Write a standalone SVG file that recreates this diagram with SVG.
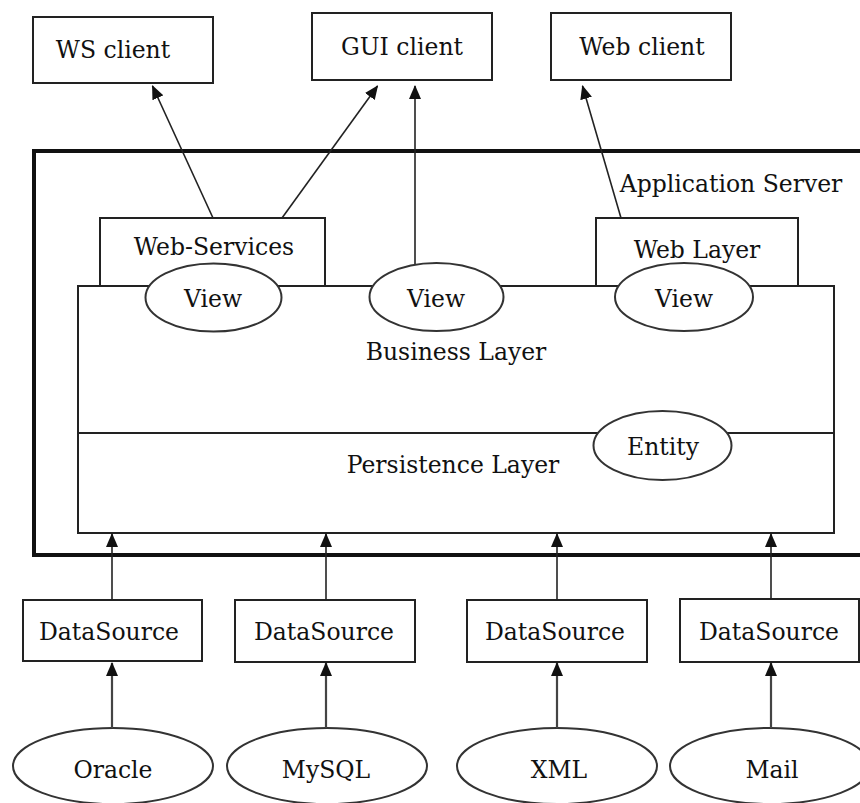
<svg xmlns="http://www.w3.org/2000/svg" width="860" height="803" viewBox="0 0 860 803">
<style>
  text { font-family: "DejaVu Serif", "Liberation Serif", serif; font-size: 23.5px; fill: #111; text-anchor: middle; }
  .box { fill: #fff; stroke: #222; stroke-width: 2; }
  .ell { fill: #fff; stroke: #333; stroke-width: 2; }
  .server { fill: none; stroke: #111; stroke-width: 4; }
  .conn { stroke: #222; stroke-width: 1.6; fill: none; marker-end: url(#arrow); }
  .conn2 { stroke: #444; stroke-width: 2.2; fill: none; marker-end: url(#arrow); }
</style>
<defs>
  <marker id="arrow" markerUnits="userSpaceOnUse" markerWidth="14" markerHeight="12" refX="13" refY="6" orient="auto">
    <path d="M0,0 L14,6 L0,12 z" fill="#111"/>
  </marker>
</defs>
<rect width="860" height="803" fill="#fff"/>

<g id="app-server">
  <rect class="server" x="34" y="151" width="840" height="404"/>
  <text x="731" y="192">Application Server</text>
</g>

<g id="ws-client">
  <rect class="box" x="33" y="17" width="180" height="66"/>
  <text x="113" y="58">WS client</text>
</g>
<g id="gui-client">
  <rect class="box" x="312" y="13" width="180" height="67"/>
  <text x="402" y="55">GUI client</text>
</g>
<g id="web-client">
  <rect class="box" x="551" y="13" width="180" height="67"/>
  <text x="642" y="55">Web client</text>
</g>

<g id="web-services">
  <rect class="box" x="100" y="218" width="225" height="68"/>
  <text x="214" y="255">Web-Services</text>
</g>
<g id="web-layer">
  <rect class="box" x="596" y="218" width="202" height="68"/>
  <text x="697" y="258">Web Layer</text>
</g>

<g id="business-persistence">
  <rect class="box" x="78" y="286" width="756" height="247"/>
  <line x1="78" y1="433" x2="834" y2="433" stroke="#222" stroke-width="2"/>
  <text x="456" y="360">Business Layer</text>
  <text x="453" y="473">Persistence Layer</text>
</g>

<g id="view-ws">
  <ellipse class="ell" cx="213.5" cy="297.5" rx="68" ry="34"/>
  <text x="213" y="307">View</text>
</g>
<g id="view-gui">
  <ellipse class="ell" cx="436.5" cy="297" rx="67" ry="34"/>
  <text x="436" y="307">View</text>
</g>
<g id="view-web">
  <ellipse class="ell" cx="684" cy="297" rx="69" ry="34"/>
  <text x="684" y="307">View</text>
</g>
<g id="entity">
  <ellipse class="ell" cx="662.5" cy="445.5" rx="69" ry="34.5"/>
  <text x="663" y="455">Entity</text>
</g>

<g id="ds1">
  <rect class="box" x="23" y="600" width="179" height="61"/>
  <text x="109" y="640">DataSource</text>
</g>
<g id="ds2">
  <rect class="box" x="235" y="600" width="180" height="62"/>
  <text x="324" y="640">DataSource</text>
</g>
<g id="ds3">
  <rect class="box" x="467" y="600" width="180" height="62"/>
  <text x="555" y="640">DataSource</text>
</g>
<g id="ds4">
  <rect class="box" x="680" y="599" width="179" height="63"/>
  <text x="769" y="640">DataSource</text>
</g>

<g id="oracle">
  <ellipse class="ell" cx="113" cy="766" rx="100" ry="38"/>
  <text x="113" y="778">Oracle</text>
</g>
<g id="mysql">
  <ellipse class="ell" cx="327" cy="766" rx="100" ry="38"/>
  <text x="326" y="778">MySQL</text>
</g>
<g id="xml">
  <ellipse class="ell" cx="557" cy="766" rx="100" ry="38"/>
  <text x="559" y="778">XML</text>
</g>
<g id="mail">
  <ellipse class="ell" cx="770" cy="766" rx="100" ry="38"/>
  <text x="772" y="778">Mail</text>
</g>

<g id="connectors">
  <line class="conn" x1="213" y1="218" x2="152.5" y2="86"/>
  <line class="conn" x1="282" y1="218" x2="377.5" y2="86"/>
  <line class="conn" x1="415" y1="264" x2="415" y2="86"/>
  <line class="conn" x1="621" y1="218" x2="582.5" y2="86"/>

  <line class="conn" x1="112" y1="600" x2="112" y2="534"/>
  <line class="conn" x1="326" y1="600" x2="326" y2="534"/>
  <line class="conn" x1="557" y1="600" x2="557" y2="534"/>
  <line class="conn" x1="771" y1="599" x2="771" y2="534"/>

  <line class="conn2" x1="112" y1="728" x2="112" y2="663"/>
  <line class="conn2" x1="326" y1="728" x2="326" y2="663"/>
  <line class="conn2" x1="557" y1="728" x2="557" y2="663"/>
  <line class="conn2" x1="771" y1="728" x2="771" y2="663"/>
</g>
</svg>
